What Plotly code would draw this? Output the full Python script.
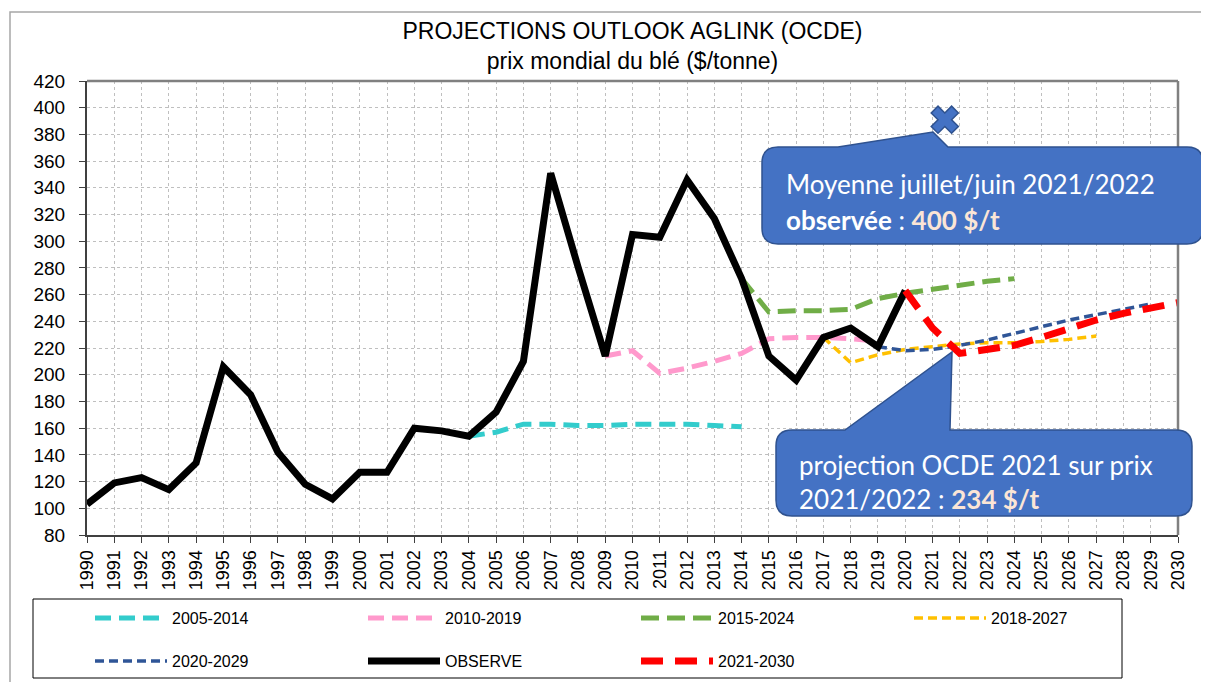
import plotly.graph_objects as go

# ---------------- data ----------------
years_observe = list(range(1990, 2021))
observe = [103, 119, 123, 114, 134, 206, 185, 142, 118, 107, 127, 127, 160, 158, 154,
           172, 210, 351, 281, 214, 305, 303, 346, 317, 272, 214, 196, 228, 235, 221, 263]

years_2005_2014 = list(range(2004, 2015))
proj_2005_2014 = [154, 157, 163, 163, 162, 162, 163, 163, 163, 162, 161]

years_2010_2019 = list(range(2009, 2020))
proj_2010_2019 = [214, 218, 201, 205, 210, 216, 227, 228, 228, 227, 225]

years_2015_2024 = list(range(2014, 2025))
proj_2015_2024 = [272, 247, 248, 248, 249, 257, 261, 264, 267, 270, 272]

years_2018_2027 = list(range(2017, 2028))
proj_2018_2027 = [228, 209, 215, 219, 221, 223, 224, 224, 225, 226.5, 229]

years_2020_2029 = list(range(2019, 2030))
proj_2020_2029 = [221, 218, 219, 222, 226, 231, 236, 241, 245, 249, 253]

years_2021_2030 = list(range(2020, 2031))
proj_2021_2030 = [263, 235, 216, 219, 222, 228, 235, 241, 246, 250, 254]

marker_year = [2021.45]
marker_value = [391]

x_ticks = list(range(1990, 2031))
y_ticks = list(range(80, 421, 20))

# ---------------- layout helpers ----------------
# The page body has an 8px margin, so the figure is drawn 8px right/down.
OFF = 8
SCREEN_W, SCREEN_H = 1209, 682
W, H = SCREEN_W - OFF, SCREEN_H - OFF
PLOT_X0, PLOT_X1 = 87, 1178   # screen pixels of the plot area
PLOT_Y0, PLOT_Y1 = 81, 535
L = PLOT_X0 - OFF
T = PLOT_Y0 - OFF
R = W - (PLOT_X1 - OFF)
B = H - (PLOT_Y1 - OFF)
PW, PH = PLOT_X1 - PLOT_X0, PLOT_Y1 - PLOT_Y0


def px(x):
    return (x - PLOT_X0) / PW


def py(y):
    return (PLOT_Y1 - y) / PH


def callout_path(x0, y0, x1, y1, r, b0, tipx, tipy, b1):
    pts = [
        ("M", (x0 + r, y0)), ("L", (b0, y0)), ("L", (tipx, tipy)), ("L", (b1, y0)),
        ("L", (x1 - r, y0)), ("Q", (x1, y0), (x1, y0 + r)), ("L", (x1, y1 - r)),
        ("Q", (x1, y1), (x1 - r, y1)), ("L", (x0 + r, y1)), ("Q", (x0, y1), (x0, y1 - r)),
        ("L", (x0, y0 + r)), ("Q", (x0, y0), (x0 + r, y0)),
    ]
    s = ""
    for p in pts:
        s += p[0] + " " + " ".join(f"{px(a):.5f},{py(b):.5f}" for a, b in p[1:]) + " "
    return s + "Z"


FONT = "Liberation Sans"
CFONT = "Lato"

fig = go.Figure()

series = [
    ("2005-2014", years_2005_2014, proj_2005_2014, "#33CCCC", 5, "16px,8px", "legend"),
    ("2010-2019", years_2010_2019, proj_2010_2019, "#FF99CC", 5, "16px,8px", "legend"),
    ("2015-2024", years_2015_2024, proj_2015_2024, "#70AD47", 5, "18px,8px", "legend"),
    ("2018-2027", years_2018_2027, proj_2018_2027, "#FFC000", 3.5, "9px,5px", "legend"),
    ("2020-2029", years_2020_2029, proj_2020_2029, "#2F5597", 3.5, "9px,5px", "legend2"),
    ("OBSERVE", years_observe, observe, "#000000", 7, "solid", "legend2"),
    ("2021-2030", years_2021_2030, proj_2021_2030, "#FF0000", 7, "22px,12px", "legend2"),
]
for name, xs, ys, col, w, dash, leg in series:
    fig.add_trace(go.Scatter(x=xs, y=ys, mode="lines", name=name, legend=leg,
                             line=dict(color=col, width=w, dash=dash)))

fig.add_trace(go.Scatter(x=marker_year, y=marker_value, mode="markers", showlegend=False,
                         cliponaxis=False,
                         marker=dict(symbol="x", size=24, color="#4472C4",
                                     line=dict(color="#2F528F", width=1.5))))

axis_common = dict(showgrid=True, gridcolor="#BFBFBF", griddash="dot", gridwidth=1,
                   showline=True, linecolor="#404040", linewidth=2, zeroline=False,
                   ticks="outside", ticklen=6, tickcolor="#404040")

fig.update_xaxes(range=[1990, 2030], tickmode="array", tickvals=x_ticks,
                 ticktext=[str(v) for v in x_ticks], tickangle=-90,
                 tickfont=dict(family=FONT, size=18, color="#000000"), **axis_common)
fig.update_yaxes(range=[80, 420], tickmode="array", tickvals=y_ticks,
                 ticktext=[str(v) for v in y_ticks], ticklabelstandoff=10,
                 tickfont=dict(family=FONT, size=19, color="#000000"), **axis_common)

shapes = [
    # outer chart frame
    dict(type="rect", xref="paper", yref="paper", x0=px(10), y0=py(12), x1=px(1215), y1=py(690),
         line=dict(color="#A6A6A6", width=1.5), fillcolor="rgba(0,0,0,0)", layer="below"),
    # plot area top/right borders
    dict(type="line", xref="paper", yref="paper", x0=0, y0=1, x1=1, y1=1,
         line=dict(color="#808080", width=2.5)),
    dict(type="line", xref="paper", yref="paper", x0=1, y0=0, x1=1, y1=1,
         line=dict(color="#808080", width=2.5)),
    # legend box
    dict(type="rect", xref="paper", yref="paper", x0=px(33), y0=py(599), x1=px(1122), y1=py(678),
         line=dict(color="#000000", width=1), fillcolor="rgba(0,0,0,0)"),
    # callouts
    dict(type="path", xref="paper", yref="paper",
         path=callout_path(762, 147, 1203, 244, 16, 838, 933, 132, 948),
         fillcolor="#4472C4", line=dict(color="#2F528F", width=1.5)),
    dict(type="path", xref="paper", yref="paper",
         path=callout_path(776, 430, 1192, 516, 16, 845, 952, 352, 950),
         fillcolor="#4472C4", line=dict(color="#2F528F", width=1.5)),
]

ann_font = dict(family=CFONT, size=26, color="#FFFFFF")
peach = "#FBE5D6"
annotations = [
    dict(text="Moyenne juillet/juin 2021/2022", x=px(784), y=py(184)),
    dict(text=f"<b>observée</b> : <b><span style='color:{peach}'>400 $/t</span></b>",
         x=px(784), y=py(220)),
    dict(text="projection OCDE 2021 sur prix", x=px(797), y=py(465)),
    dict(text=f"2021/2022 : <b><span style='color:{peach}'>234 $/t</span></b>",
         x=px(797), y=py(499)),
]
for a in annotations:
    a.update(xref="paper", yref="paper", xanchor="left", yanchor="middle",
             showarrow=False, font=ann_font)

legend_common = dict(orientation="h", xanchor="left", yanchor="top", entrywidth=186,
                     itemwidth=72, bgcolor="rgba(0,0,0,0)", borderwidth=0,
                     traceorder="normal", font=dict(family=FONT, size=16, color="#000000"))

fig.update_layout(
    width=W, height=H, autosize=False,
    margin=dict(l=L, r=R, t=T, b=B, pad=0, autoexpand=False),
    paper_bgcolor="#FFFFFF", plot_bgcolor="#FFFFFF",
    font=dict(family=FONT, color="#000000"),
    title=dict(text="PROJECTIONS OUTLOOK AGLINK (OCDE)<br>prix mondial du blé ($/tonne)",
               x=0.5, xref="paper", xanchor="center", y=1 - 31 / H, yref="container",
               yanchor="top", font=dict(family=FONT, size=23, color="#000000")),
    legend=dict(x=px(90), y=py(601), **legend_common),
    legend2=dict(x=px(90), y=py(644), **legend_common),
    shapes=shapes,
    annotations=annotations,
)

fig.write_html("out.html")
